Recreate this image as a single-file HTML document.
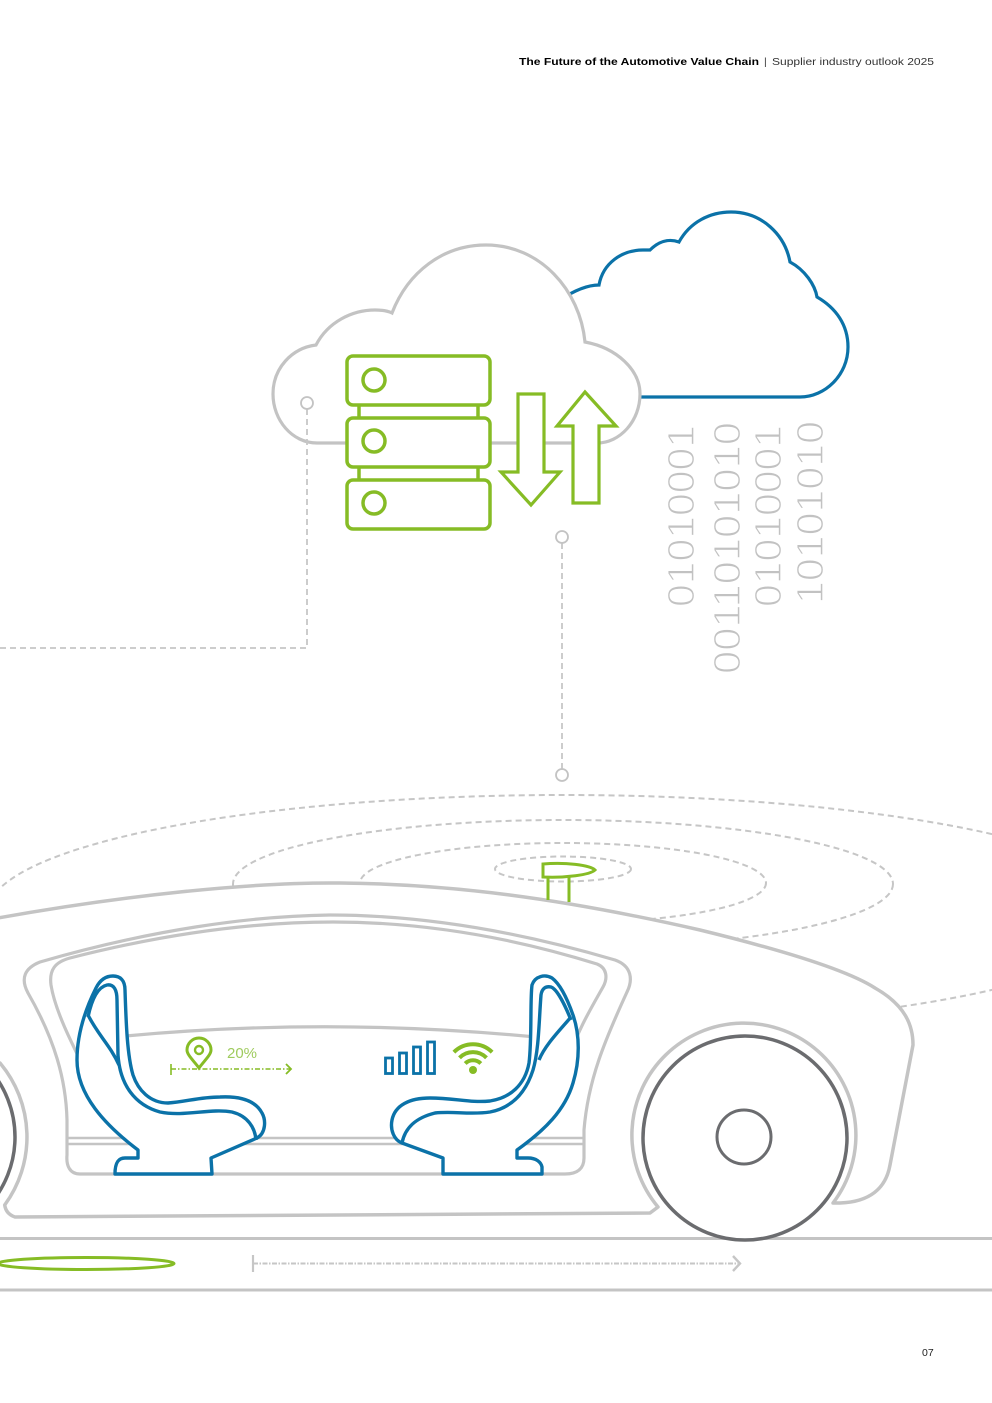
<!DOCTYPE html>
<html>
<head>
<meta charset="utf-8">
<style>
  html,body{margin:0;padding:0;background:#fff;}
  svg{display:block;}
</style>
</head>
<body>
<svg width="992" height="1403" viewBox="0 0 992 1403" xmlns="http://www.w3.org/2000/svg" font-family="'Liberation Sans', sans-serif">
  <rect width="992" height="1403" fill="#fff"/>

  <!-- Header -->
  <text x="519" y="65" font-size="10.5" font-weight="bold" fill="#000" textLength="240" lengthAdjust="spacingAndGlyphs">The Future of the Automotive Value Chain</text>
  <text x="764" y="65" font-size="10.5" fill="#333">|</text>
  <text x="772" y="65" font-size="10.5" fill="#333" textLength="162" lengthAdjust="spacingAndGlyphs">Supplier industry outlook 2025</text>

  <!-- Page number -->
  <text x="922" y="1356" font-size="10.5" fill="#222">07</text>

  <!-- Blue cloud -->
  <path d="M560 300 C575 290, 588 285, 599 285 C603 263, 622 250, 643 250 L650 250 C658 242, 668 238, 679 242 C690 222, 710 212, 731 212 C762 212, 785 235, 790 262 C805 270, 815 285, 817 297 C836 308, 848 325, 848 347 C848 375, 825 397, 800 397 L600 397"
        fill="#fff" stroke="#0b72a8" stroke-width="3.2"/>

  <!-- Gray cloud -->
  <path d="M317 443 C292 443, 273 420, 273 394 C273 368, 292 348, 316 345 C328 322, 352 310, 375 310 C382 310, 388 311, 392 313 C408 272, 443 245, 486 245 C540 245, 580 290, 585 342 C617 348, 640 370, 640 394 C640 421, 620 443, 597 443 Z"
        fill="#fff" stroke="#c3c3c3" stroke-width="3.2"/>

  <!-- Dashed connectors (on top of cloud) -->
  <g fill="none" stroke="#c6c6c6" stroke-width="1.8">
    <path d="M307 409 L307 648 L0 648" stroke-dasharray="6 4"/>
    <path d="M562 543 L562 769" stroke-dasharray="6 4"/>
  </g>
  <g fill="#fff" stroke="#c3c3c3" stroke-width="1.8">
    <circle cx="307" cy="403" r="6"/>
    <circle cx="562" cy="537" r="6"/>
    <circle cx="562" cy="775" r="6"/>
  </g>

  <!-- Server -->
  <g fill="#fff" stroke="#86bc25" stroke-width="3.5">
    <line x1="359" y1="405" x2="359" y2="418"/>
    <line x1="478" y1="405" x2="478" y2="418"/>
    <line x1="359" y1="467" x2="359" y2="480"/>
    <line x1="478" y1="467" x2="478" y2="480"/>
    <rect x="347" y="356" width="143" height="49" rx="6"/>
    <rect x="347" y="418" width="143" height="49" rx="6"/>
    <rect x="347" y="480" width="143" height="49" rx="6"/>
    <circle cx="374" cy="380" r="11"/>
    <circle cx="374" cy="441" r="11"/>
    <circle cx="374" cy="503" r="11"/>
  </g>

  <!-- Arrows -->
  <g fill="#fff" stroke="#86bc25" stroke-width="3.2" stroke-linejoin="miter">
    <path d="M518 394 L544 394 L544 472 L560 472 L531 505 L501 472 L518 472 Z"/>
    <path d="M585 392 L616 426 L599 426 L599 503 L573 503 L573 426 L557 426 Z"/>
  </g>

  <!-- Binary digits (white stroke thins the glyphs) -->
  <g font-size="38" fill="#c2c2c2" stroke="#fff" stroke-width="1.3" font-family="'Liberation Sans', sans-serif">
    <text transform="translate(694,607) rotate(-90)" textLength="182" lengthAdjust="spacingAndGlyphs">01010001</text>
    <text transform="translate(740,674) rotate(-90)" textLength="252" lengthAdjust="spacingAndGlyphs">00110101010</text>
    <text transform="translate(781,607) rotate(-90)" textLength="182" lengthAdjust="spacingAndGlyphs">01010001</text>
    <text transform="translate(823,604) rotate(-90)" textLength="183" lengthAdjust="spacingAndGlyphs">10101010</text>
  </g>

  <!-- Dashed radio ellipses -->
  <g fill="none" stroke="#c6c6c6" stroke-width="2" stroke-dasharray="6 4">
    <ellipse cx="563" cy="912" rx="575" ry="117"/>
    <ellipse cx="563" cy="884" rx="330" ry="64"/>
    <ellipse cx="563" cy="883" rx="203" ry="40"/>
    <ellipse cx="563" cy="869" rx="68" ry="12.5"/>
  </g>

  <!-- Car body -->
  <path d="M-2 918 C120 896, 250 882, 340 883 C450 884, 560 898, 700 930 C790 952, 850 972, 875 988 C905 1005, 913 1025, 913 1045 L890 1165 C886 1188, 870 1202, 840 1203 L833 1203 A112 112 0 1 0 658 1207 L650 1213 L15 1217 Q6 1214 4.7 1205 A115 115 0 0 0 0 1063 L-6 1063 L-6 918 Z"
        fill="#fff" stroke="#c4c4c4" stroke-width="3.5" stroke-linejoin="round"/>

  <!-- Left wheel -->
  <circle cx="-88" cy="1137" r="103" fill="#fff" stroke="#6b6c6f" stroke-width="3.5"/>

  <!-- Door / window outer frame -->
  <path d="M28 993 C20 978, 25 968, 40 962 C150 930, 250 916, 330 915 C430 915, 530 935, 615 960 C632 966, 633 980, 627 992 C605 1040, 588 1080, 584 1130 L584 1158 C584 1168, 578 1174, 565 1174 L80 1174 C70 1174, 66 1166, 67 1155 L67 1120 C66 1080, 55 1040, 28 993 Z"
        fill="#fff" stroke="#c4c4c4" stroke-width="3.2"/>
  <!-- Inner window frame -->
  <path d="M90 1080 C70 1040, 55 1010, 51 985 C49 970, 55 962, 70 958 C160 935, 250 922, 333 922 C430 922, 520 940, 597 964 C607 968, 608 978, 603 987 C590 1010, 578 1030, 568 1060"
        fill="none" stroke="#c4c4c4" stroke-width="3.2"/>
  <!-- Interior line -->
  <path d="M115 1037 Q330 1016 545 1038" fill="none" stroke="#c4c4c4" stroke-width="3.2"/>
  <!-- Floor lines -->
  <g stroke="#c4c4c4" stroke-width="2.6">
    <line x1="67" y1="1138" x2="584" y2="1138"/>
    <line x1="67" y1="1144" x2="584" y2="1144"/>
  </g>

  <!-- Left seat -->
  <g fill="#fff" stroke="#0b72a8" stroke-width="3.4" stroke-linejoin="round">
    <path d="M115 1174 L212 1174 L211 1158 L257 1138 C266 1133, 266 1120, 262 1113 C255 1100, 240 1096, 220 1097 C200 1097, 185 1102, 168 1103 C150 1103, 138 1090, 133 1075 C127 1055, 126 1020, 125 990 C125 980, 120 976, 113 976 C106 976, 100 980, 96 988 C85 1010, 77 1035, 77 1060 C77 1095, 105 1125, 138 1150 L138 1158 L125 1158 C118 1158, 115 1163, 115 1174 Z"/>
    <path fill="none" d="M88 1017 C92 998, 98 987, 107 985 C114 984, 117 990, 117 1000 L118 1055 C120 1085, 135 1105, 160 1112 C185 1117, 210 1108, 232 1112 C248 1116, 255 1128, 256 1140"/>
    <path fill="none" d="M88 1015 C98 1035, 110 1045, 119 1065"/>
  </g>

  <!-- Right seat -->
  <g fill="#fff" stroke="#0b72a8" stroke-width="3.4" stroke-linejoin="round">
    <path d="M443 1174 L542 1174 L542 1167 C541 1162, 536 1158, 528 1158 L517 1158 L517 1150 C545 1130, 565 1110, 573 1083 C580 1060, 580 1035, 573 1015 C567 998, 560 984, 552 978 C545 974, 535 976, 532 985 C530 1000, 532 1040, 529 1063 C525 1085, 510 1098, 490 1101 C470 1103, 455 1098, 430 1098 C410 1098, 395 1105, 392 1120 C390 1130, 394 1140, 402 1143 L443 1158 Z"/>
    <path fill="none" d="M402 1143 C405 1128, 415 1118, 435 1113 C455 1111, 470 1115, 490 1112 C510 1108, 525 1095, 533 1070 C539 1050, 539 1020, 541 995 C542 988, 546 986, 551 987 C557 989, 565 1005, 571 1020"/>
    <path fill="none" d="M571 1017 C560 1030, 545 1045, 539 1060"/>
  </g>

  <!-- Location pin + 20% + dashed arrow -->
  <g fill="none" stroke="#86bc25">
    <path d="M199 1068 C194 1061, 187 1055, 187 1050 A12 12 0 0 1 211 1050 C211 1055, 204 1061, 199 1068 Z" fill="#fff" stroke-width="3"/>
    <circle cx="199" cy="1050" r="4" stroke-width="2.4"/>
    <line x1="171" y1="1069" x2="290" y2="1069" stroke-width="1.6" stroke-dasharray="5 2 1.5 2"/>
    <line x1="171" y1="1064" x2="171" y2="1075" stroke-width="1.6"/>
    <path d="M286 1064 L291 1069 L286 1074" stroke-width="1.8"/>
  </g>
  <text x="227" y="1058" font-size="15" fill="#9fcb5e">20%</text>

  <!-- Signal bars -->
  <g fill="#fff" stroke="#0b72a8" stroke-width="2.8">
    <rect x="385.5" y="1058" width="7" height="15.5"/>
    <rect x="399.5" y="1053" width="7" height="20.5"/>
    <rect x="413.5" y="1047" width="7" height="26.5"/>
    <rect x="427.5" y="1042" width="7" height="31.5"/>
  </g>

  <!-- WiFi -->
  <g fill="none" stroke="#86bc25" stroke-width="4" stroke-linecap="butt">
    <path d="M465.2 1063.5 A11 11 0 0 1 480.8 1063.5"/>
    <path d="M459.5 1057.8 A19 19 0 0 1 486.5 1057.8"/>
    <path d="M453.9 1052.2 A27 27 0 0 1 492.1 1052.2"/>
  </g>
  <circle cx="473" cy="1070" r="4" fill="#86bc25"/>

  <!-- Antenna -->
  <g fill="#fff" stroke="#86bc25" stroke-width="3">
    <line x1="548" y1="877" x2="548" y2="900"/>
    <line x1="569" y1="877" x2="569" y2="902"/>
    <path d="M543 864 C565 862, 590 865, 595 870 C590 875, 565 878, 543 877 Z"/>
  </g>

  <!-- Road -->
  <g stroke="#c4c4c4" stroke-width="3">
    <line x1="0" y1="1238.5" x2="992" y2="1238.5"/>
    <line x1="0" y1="1290" x2="992" y2="1290"/>
  </g>

  <!-- Right wheel -->
  <circle cx="745" cy="1138" r="102" fill="#fff" stroke="#6b6c6f" stroke-width="3.5"/>
  <circle cx="744" cy="1137" r="27" fill="#fff" stroke="#6b6c6f" stroke-width="3"/>

  <!-- Green ellipse on road -->
  <ellipse cx="86" cy="1263.5" rx="88" ry="6" fill="none" stroke="#86bc25" stroke-width="3"/>

  <!-- Gray dashed arrow on road -->
  <g fill="none" stroke="#c6c6c6">
    <line x1="253" y1="1263.5" x2="738" y2="1263.5" stroke-width="2" stroke-dasharray="5 1.5 1.5 1.5"/>
    <line x1="253" y1="1255" x2="253" y2="1272" stroke-width="2.2"/>
    <path d="M733 1256 L740 1263.5 L733 1271" stroke-width="2.4"/>
  </g>
</svg>
</body>
</html>
